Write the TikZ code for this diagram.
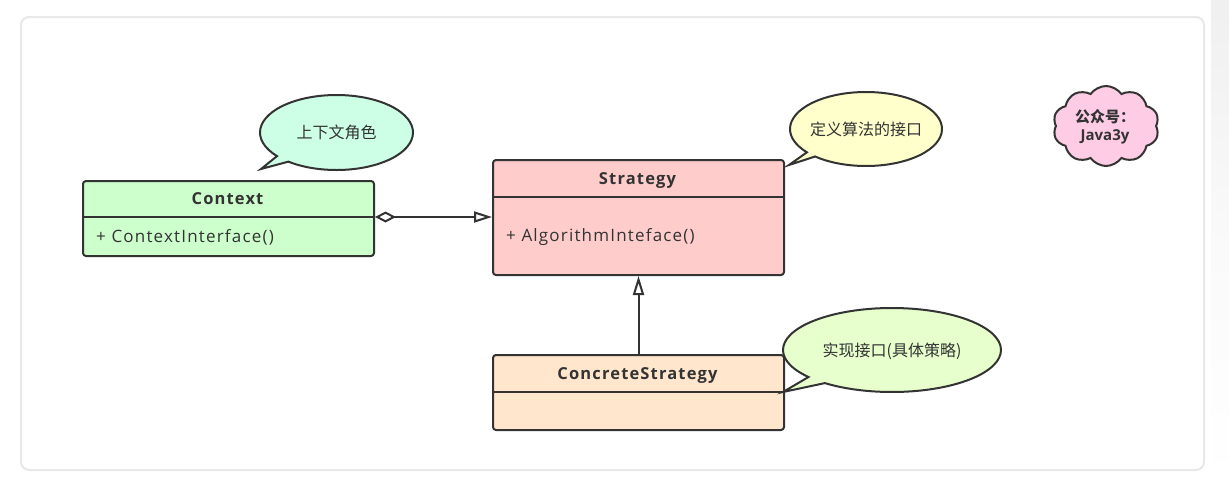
\documentclass[tikz,border=0pt]{standalone}
\usepackage{fontspec}
\setmainfont{Open Sans}
\newfontfamily\cjk{Noto Sans CJK SC}
\usetikzlibrary{arrows.meta,shapes.symbols}
\definecolor{ink}{HTML}{333333}
\definecolor{frame}{HTML}{E8E8E8}
\definecolor{ctxfill}{HTML}{CCFFCC}
\definecolor{strfill}{HTML}{FFCCCC}
\definecolor{csfill}{HTML}{FFE6CC}
\definecolor{noteA}{HTML}{CCFFE6}
\definecolor{noteB}{HTML}{FFFFCC}
\definecolor{noteC}{HTML}{E6FFCC}
\definecolor{cloudfill}{HTML}{FFCCE6}
\begin{document}
\begin{tikzpicture}[x=1pt,y=1pt,yscale=-1,
  classbox/.style={draw=ink, line width=2pt, rounded corners=3pt, inner sep=0pt, anchor=north west},
  divider/.style={draw=ink, line width=2pt},
  ctitle/.style={font=\fontsize{16.5}{18}\selectfont\bfseries\addfontfeatures{LetterSpace=7}, text=ink, inner sep=0pt, text height=12pt, text depth=0pt},
  cbody/.style={font=\fontsize{17}{18}\selectfont\addfontfeatures{LetterSpace=7}, text=ink, inner sep=0pt, anchor=west},
  conn/.style={draw=ink, line width=2pt},
  callout/.style={draw=ink, line width=2pt, line join=miter},
  notetext/.style={font=\fontsize{16}{18}\selectfont\cjk, text=ink, inner sep=0pt}
]
\useasboundingbox (0,0) rectangle (1229,485);
% right strip
\shade[top color=black!6, bottom color=white, middle color=black!2] (1211,0) rectangle (1229,485);
% frame
\draw[frame, line width=2pt, rounded corners=8pt, fill=white] (21,17) rectangle (1204,470);

% Context
\node[classbox, fill=ctxfill, minimum width=291pt, minimum height=75pt] (ctx) at (82,180) {};
\draw[divider] (ctx.west |- 0,217) -- (ctx.east |- 0,217);
\node[ctitle] (ctxT) at (227.5,198.5) {Context};
\node[cbody] (ctxB) at (96,237) {+ ContextInterface()};

% Strategy
\node[classbox, fill=strfill, minimum width=291pt, minimum height=115pt] (str) at (492,159) {};
\draw[divider] (str.west |- 0,197) -- (str.east |- 0,197);
\node[ctitle] (strT) at (637.5,178.5) {Strategy};
\node[cbody] (strB) at (506,237) {+ AlgorithmInteface()};

% ConcreteStrategy
\node[classbox, fill=csfill, minimum width=291pt, minimum height=75pt] (cs) at (492,354) {};
\draw[divider] (cs.west |- 0,392) -- (cs.east |- 0,392);
\node[ctitle] (csT) at (637.5,373.5) {ConcreteStrategy};

% connectors
\draw[conn, {Diamond[open,length=21pt,width=11pt]}-{Triangle[open,length=18pt,width=11pt]}]
  (ctx.east |- 0,217) -- (str.west |- 0,217);
\draw[conn, -{Triangle[open,length=19pt,width=11pt]}] (cs.north) -- (str.south);

% callouts
\coordinate (tipA) at (261,169);
\path[callout, fill=noteA] (336.5,132.5) ++(141:76.5pt and 37.5pt)
  arc[start angle=141, end angle=489, x radius=76.5pt, y radius=37.5pt] -- (tipA) -- cycle;
\node[notetext] (noteAT) at (336.5,132) {上下文角色};

\coordinate (tipB) at (789,165);
\path[callout, fill=noteB] (866,129) ++(141:76pt and 37pt)
  arc[start angle=141, end angle=492, x radius=76pt, y radius=37pt] -- (tipB) -- cycle;
\node[notetext] (noteBT) at (866,129) {定义算法的接口};

\coordinate (tipC) at (783,392);
\path[callout, fill=noteC] (892,350) ++(140:109pt and 42pt)
  arc[start angle=140, end angle=488, x radius=109pt, y radius=42pt] -- (tipC) -- cycle;
\node[notetext] (noteCT) at (892,351) {实现接口(具体策略)};

% cloud
\node[cloud, cloud puffs=10, cloud puff arc=110, draw=ink, line width=2pt, fill=cloudfill,
  minimum width=106pt, minimum height=80pt, inner sep=0pt] (cl) at (1106,126) {};
\node[text=ink, align=center, inner sep=0pt, font=\fontsize{15}{18}\selectfont\bfseries] (clT) at (1105,127)
  {{\cjk 公众号：}\\Java3y};
\end{tikzpicture}
\end{document}
